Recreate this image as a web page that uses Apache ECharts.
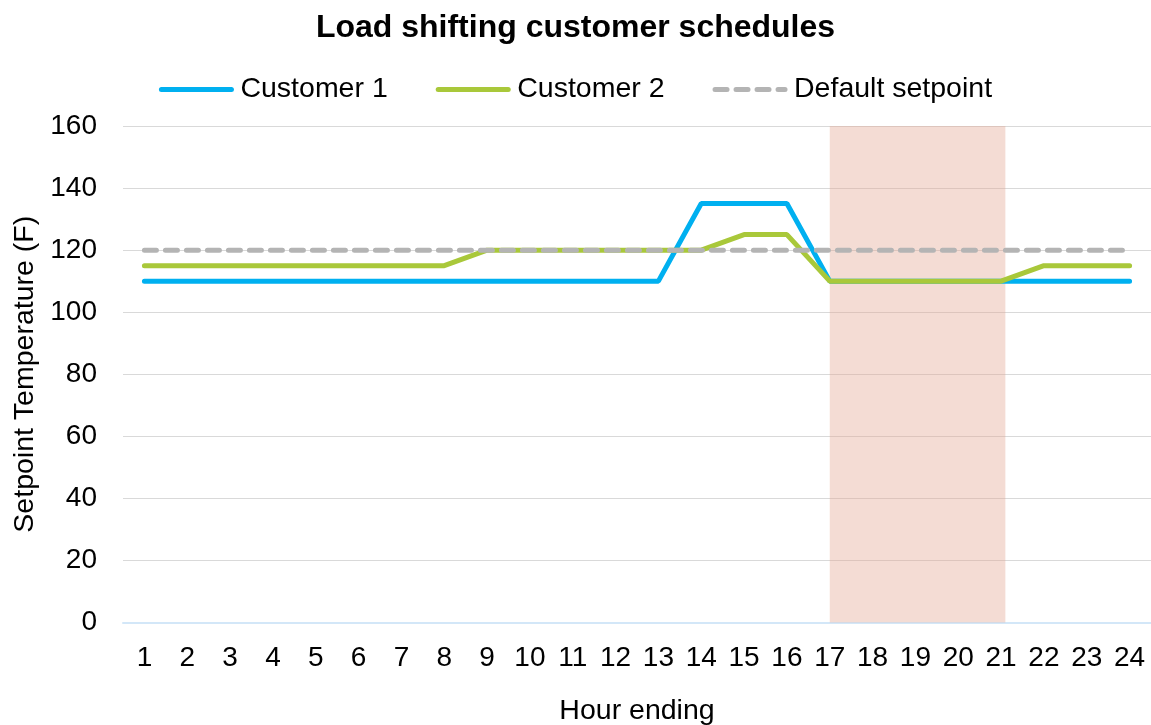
<!DOCTYPE html>
<html>
<head>
<meta charset="utf-8">
<script src="https://cdn.jsdelivr.net/npm/echarts@6/dist/echarts.min.js"></script>
<style>html,body{margin:0;padding:0;background:#fff;}#c{width:1151px;height:725px;}</style>
</head>
<body>
<div id="c"></div>
<script>
const hours = ['1','2','3','4','5','6','7','8','9','10','11','12','13','14','15','16','17','18','19','20','21','22','23','24'];
const customer1 = [110,110,110,110,110,110,110,110,110,110,110,110,110,135,135,135,110,110,110,110,110,110,110,110];
const customer2 = [115,115,115,115,115,115,115,115,120,120,120,120,120,120,125,125,110,110,110,110,110,115,115,115];
const defaultSetpoint = [120,120,120,120,120,120,120,120,120,120,120,120,120,120,120,120,120,120,120,120,120,120,120,120];
const yTicks = [0,20,40,60,80,100,120,140,160];
const peakStart = 17, peakEnd = 21.1;

const font = 'Arial, "Liberation Sans", sans-serif';
const chart = echarts.init(document.getElementById('c'), null, {renderer: 'canvas'});
chart.setOption({
  backgroundColor: '#fff',
  animation: false,
  textStyle: {fontFamily: font},
  title: {
    text: 'Load shifting customer schedules',
    left: 'center', top: 12, padding: 0,
    textStyle: {fontFamily: font, fontSize: 32, fontWeight: 'bold', color: '#000'}
  },
  legend: {
    top: 75, left: 'center', padding: 0,
    itemWidth: 70, itemHeight: 14, itemGap: 48,
    itemStyle: {opacity: 0},
    lineStyle: {width: 5, cap: 'round'},
    textStyle: {fontFamily: font, fontSize: 28.5, color: '#000', padding: [0,0,0,4]},
    data: ['Customer 1', 'Customer 2', 'Default setpoint']
  },
  grid: {left: 123, right: 0, top: 126, bottom: 102.5, containLabel: false, outerBoundsMode: 'none'},
  xAxis: [{
    type: 'category', data: hours, boundaryGap: true,
    name: 'Hour ending', nameLocation: 'middle', nameGap: 74,
    nameTextStyle: {fontFamily: font, fontSize: 28.5, color: '#000'},
    axisLine: {show: true, lineStyle: {color: '#d3e7f8', width: 2}},
    axisTick: {show: false},
    axisLabel: {fontFamily: font, fontSize: 28, color: '#000', margin: 22, interval: 0},
    splitLine: {show: false}
  }, {
    type: 'value', min: 0.5, max: 24.5, show: false
  }],
  yAxis: {
    type: 'value', min: yTicks[0], max: yTicks[yTicks.length-1], interval: 20,
    name: 'Setpoint Temperature (F)', nameLocation: 'middle', nameGap: 82,
    nameTextStyle: {fontFamily: font, fontSize: 28.5, color: '#000'},
    axisLine: {show: false}, axisTick: {show: false},
    axisLabel: {fontFamily: font, fontSize: 28, color: '#000', margin: 26, padding: [5,0,0,0]},
    splitLine: {show: true, lineStyle: {color: '#d9d9d9', width: 1}}
  },
  series: [
    {name: 'Customer 1', type: 'line', data: customer1, symbol: 'none', z: 2,
     lineStyle: {color: '#00b0f0', width: 5, cap: 'round'}, itemStyle: {color: '#00b0f0'}},
    {name: 'Customer 2', type: 'line', data: customer2, symbol: 'none', z: 3,
     lineStyle: {color: '#a9c83a', width: 5, cap: 'round'}, itemStyle: {color: '#a9c83a'}},
    {name: 'Default setpoint', type: 'line', data: defaultSetpoint, symbol: 'none', z: 4,
     lineStyle: {color: '#b4b4b4', width: 5, type: [12, 9], cap: 'round'}, itemStyle: {color: '#b4b4b4'}},
    {name: 'peak', type: 'line', xAxisIndex: 1, data: [], z: 10, silent: true,
     markArea: {silent: true, itemStyle: {color: 'rgba(228,168,148,0.4)'},
       data: [[{xAxis: peakStart}, {xAxis: peakEnd}]]}}
  ]
});
</script>
</body>
</html>
